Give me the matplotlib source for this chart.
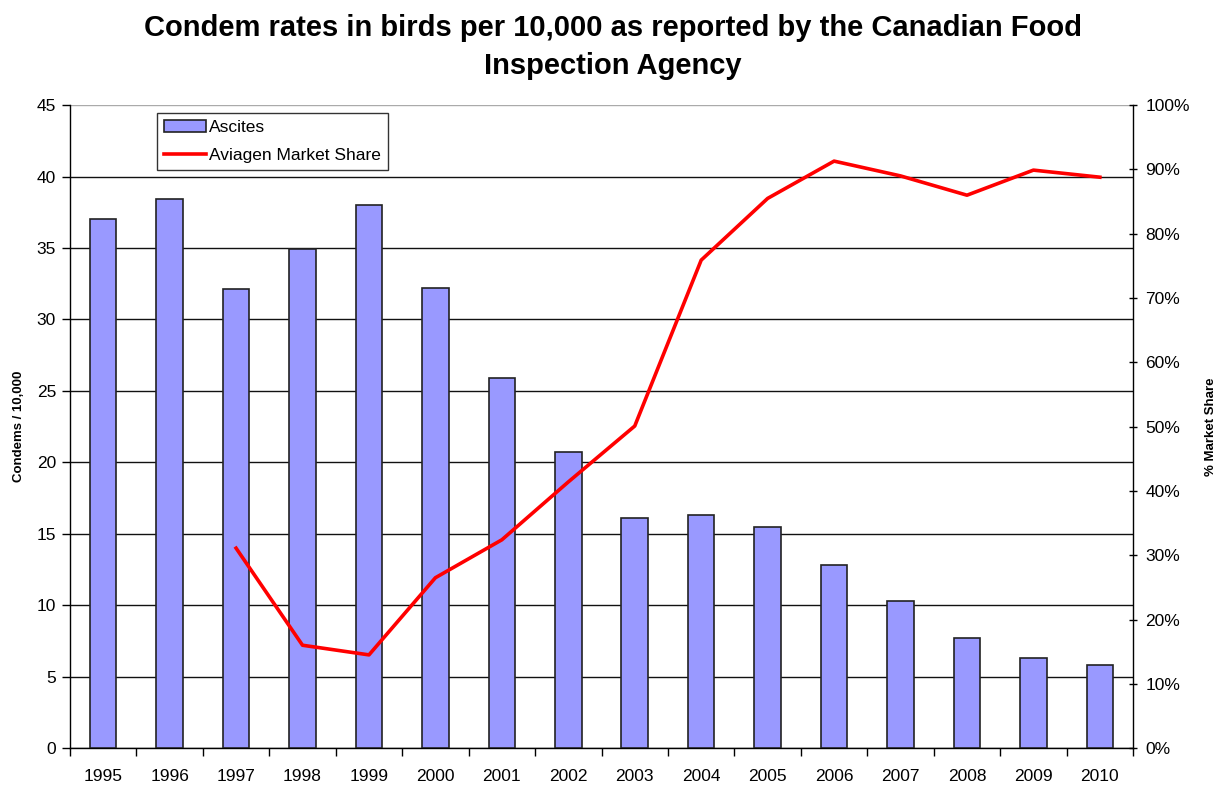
import numpy as np
import matplotlib.pyplot as plt
from matplotlib.ticker import FuncFormatter

plt.rcParams['font.family'] = ['Liberation Sans', 'DejaVu Sans']

YEARS = ['1995', '1996', '1997', '1998', '1999', '2000', '2001', '2002',
         '2003', '2004', '2005', '2006', '2007', '2008', '2009', '2010']
ASCITES = [37.0, 38.4, 32.1, 34.9, 38.0, 32.2, 25.9, 20.7,
           16.1, 16.3, 15.5, 12.8, 10.3, 7.7, 6.3, 5.8]
SHARE_YEARS = YEARS[2:]
SHARE = [31.1, 16.0, 14.5, 26.5, 32.4, 41.4, 50.1,
         75.9, 85.5, 91.3, 89.0, 86.0, 89.9, 88.8]

fig = plt.figure(figsize=(12.21, 7.85), dpi=100)
ax = fig.add_axes([0.0573, 0.047, 0.8707, 0.819])

x = np.arange(len(YEARS))
bars = ax.bar(x, ASCITES, width=0.4, color='#9999ff', edgecolor='#222222',
              linewidth=1.2, zorder=3, label='Ascites')
ax.set_xlim(-0.5, len(YEARS) - 0.5)
ax.set_ylim(0, 45)
ax.set_yticks(np.arange(0, 46, 5))
ax.set_xticks(x)
ax.set_xticklabels(YEARS, fontsize=12.5)
ax.set_xticks(np.arange(-0.5, len(YEARS), 1), minor=True)
ax.tick_params(axis='x', which='major', length=0, pad=15)
ax.tick_params(axis='x', which='minor', length=6, width=1, direction='out')
ax.tick_params(axis='y', labelsize=12.5, length=6, width=1, direction='out', pad=4)
ax.grid(axis='y', color='#111111', linewidth=1, zorder=0)
ax.yaxis.get_gridlines()[-1].set_color('#aaaaaa')
for s in ['top', 'right']:
    ax.spines[s].set_visible(False)
ax.spines['left'].set_linewidth(1)
ax.spines['bottom'].set_linewidth(1)
ax.set_ylabel('Condems / 10,000', fontsize=9.5, fontweight='bold', labelpad=8)

ax2 = ax.twinx()
sx = [YEARS.index(y) for y in SHARE_YEARS]
line, = ax2.plot(sx, SHARE, color='#ff0000', linewidth=2.6, zorder=4,
                 label='Aviagen Market Share')
ax2.set_ylim(0, 100)
ax2.set_yticks(np.arange(0, 101, 10))
ax2.yaxis.set_major_formatter(FuncFormatter(lambda v, p: '%d%%' % v))
ax2.tick_params(axis='y', labelsize=12.5, length=6, width=1, direction='inout', pad=6)
for s in ['top', 'left', 'bottom']:
    ax2.spines[s].set_visible(False)
ax2.spines['right'].set_linewidth(1)
ax2.set_ylabel('% Market Share', fontsize=9.5, fontweight='bold', labelpad=11)

leg = ax2.legend([bars, line], ['Ascites', 'Aviagen Market Share'],
                 loc='upper left', bbox_to_anchor=(0.082, 0.988), fontsize=12.5,
                 frameon=True, fancybox=False, edgecolor='black',
                 handlelength=2.4, borderpad=0.4, labelspacing=0.75,
                 handletextpad=0.2, borderaxespad=0)
leg.get_frame().set_linewidth(1)

fig.suptitle('Condem rates in birds per 10,000 as reported by the Canadian Food\nInspection Agency',
             fontsize=21, fontweight='bold', y=0.982, x=0.502, linespacing=1.45)

fig.savefig('out.png', dpi=100)
